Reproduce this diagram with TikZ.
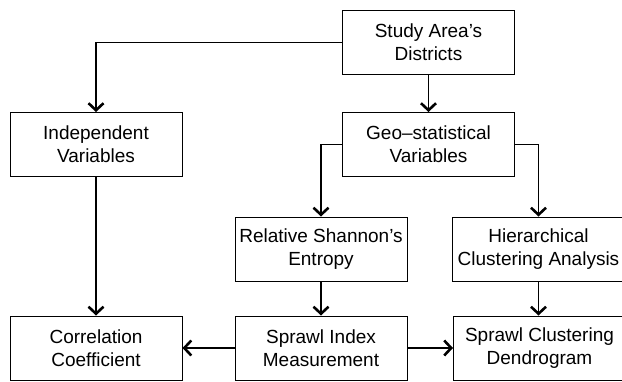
\documentclass[tikz,border=0pt]{standalone}
\usepackage{fontspec}
\setmainfont{Liberation Sans}
\usetikzlibrary{arrows.meta}
\begin{document}
\begin{tikzpicture}[x=1pt,y=-1pt,
  box/.style={draw, line width=1pt, minimum width=172pt, minimum height=64pt,
    align=center, inner sep=0pt, font=\fontsize{19}{23}\selectfont},
  conn/.style={line width=1.1pt},
  arr/.style={conn, -{Straight Barb[length=7pt,width=15pt,line width=2.6pt]}}]
\useasboundingbox (0,0) rectangle (622,381);
\node[box] (study) at (428.5,42.5) {Study Area’s\\Districts};
\node[box] (indep) at (96,144.5) {Independent\\Variables};
\node[box] (geo) at (428.5,144.5) {Geo–statistical\\Variables};
\node[box] (rel) at (321,249) {Relative Shannon’s\\Entropy};
\node[box] (hier) at (538.5,249) {Hierarchical\\Clustering Analysis};
\node[box] (clus) at (539.5,348) {Sprawl Clustering\\Dendrogram};
\node[box] (corr) at (96,348) {Correlation\\Coefficient};
\node[box] (sprawl) at (321,348) {Sprawl Index\\Measurement};
\draw[arr] (study.west) -| (indep.north);
\draw[arr] (study.south) -- (geo.north);
\draw[arr] (geo.west) -| (rel.north);
\draw[arr] (geo.east) -| (hier.north);
\draw[arr] (indep.south) -- (corr.north);
\draw[arr] (rel.south) -- (sprawl.north);
\draw[arr] (hier.south) -- (hier.south |- clus.north);
\draw[arr] (sprawl.west) -- (corr.east);
\draw[arr] (sprawl.east) -- (clus.west);
\end{tikzpicture}
\end{document}
